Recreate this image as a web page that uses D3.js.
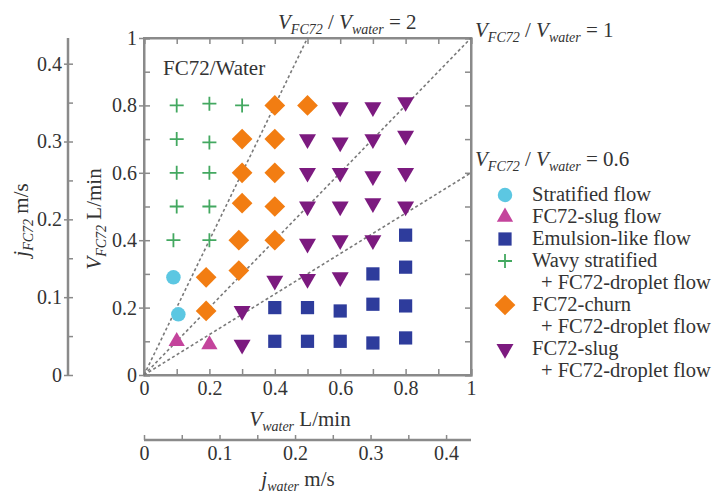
<!DOCTYPE html>
<html><head><meta charset="utf-8">
<script src="https://cdn.jsdelivr.net/npm/d3@7"></script>
<style>
body{margin:0;background:#fff}
svg{display:block}
svg text{font-family:'Liberation Serif','Tinos','Times New Roman','DejaVu Serif',serif !important;fill:#333}
</style>
</head><body>
<svg id="c" width="717" height="497" font-family="Liberation Serif, DejaVu Serif, serif"></svg>
<script>
// ---- data (V_water, V_FC72) in L/min ----
const stratified = [[0.09,0.29],[0.105,0.18]];
const fc72Slug = [[0.1,0.10],[0.2,0.09]];
const emulsion = [[0.8,0.415],[0.7,0.30],[0.8,0.32],[0.4,0.2],[0.5,0.2],[0.6,0.19],[0.7,0.21],[0.8,0.205],
  [0.4,0.1],[0.5,0.1],[0.6,0.1],[0.7,0.095],[0.8,0.11]];
const wavyDroplet = [[0.1,0.8],[0.2,0.805],[0.3,0.8],[0.1,0.7],[0.2,0.69],[0.1,0.6],[0.2,0.6],[0.1,0.5],[0.2,0.5],[0.09,0.4],[0.2,0.4]];
const churnDroplet = [[0.4,0.8],[0.5,0.8],[0.3,0.7],[0.4,0.7],[0.3,0.6],[0.4,0.6],[0.3,0.51],[0.4,0.5],[0.29,0.4],[0.4,0.4],
  [0.19,0.29],[0.29,0.31],[0.19,0.19]];
const slugDroplet = [[0.6,0.795],[0.7,0.795],[0.8,0.81],[0.5,0.7],[0.6,0.69],[0.7,0.7],[0.8,0.71],[0.5,0.6],[0.6,0.6],[0.7,0.59],[0.8,0.6],
  [0.5,0.5],[0.6,0.5],[0.7,0.51],[0.8,0.5],[0.5,0.39],[0.6,0.4],[0.7,0.4],[0.4,0.28],[0.5,0.285],[0.6,0.29],[0.3,0.19],[0.3,0.09]];
const ratioLines = [2, 1, 0.6];
const mainTicks = [0,0.2,0.4,0.6,0.8,1];
const jTicks = [0,0.1,0.2,0.3,0.4];
const jFactor = 0.433; // m/s per L/min

const FONT = "'Liberation Serif','Tinos','Times New Roman','DejaVu Serif',serif";
const svg = d3.select("#c");
const x = d3.scaleLinear([0,1],[144,471]);
const y = d3.scaleLinear([0,1],[375,38]);
const jx = d3.scaleLinear([0,jFactor],[144,471]);
const jy = d3.scaleLinear([0,jFactor],[375,38]);
const axisCol = "#8a8a8a";
const fmt = d => (d===0||d===1) ? String(d) : d.toFixed(1);

function styleAxis(g){
  g.attr("font-family",FONT).attr("font-size",20);
  g.select(".domain").attr("stroke",axisCol).attr("stroke-width",2);
  g.selectAll(".tick line").attr("stroke",axisCol).attr("stroke-width",1.5);
  g.selectAll(".tick text").attr("fill","#333");
}

// box frame
svg.append("rect").attr("x",x(0)).attr("y",y(1)).attr("width",x(1)-x(0)).attr("height",y(0)-y(1))
  .attr("fill","none").attr("stroke",axisCol).attr("stroke-width",2);

const minor = d3.range(0,11).map(i=>i/10);
// inner ticks all sides
svg.append("g").attr("transform",`translate(0,${y(0)})`).call(d3.axisBottom(x).tickValues(minor).tickSize(-6).tickFormat("")).call(styleAxis);
svg.append("g").attr("transform",`translate(0,${y(1)})`).call(d3.axisTop(x).tickValues(minor).tickSize(-6).tickFormat("")).call(styleAxis);
svg.append("g").attr("transform",`translate(${x(0)},0)`).call(d3.axisLeft(y).tickValues(minor).tickSize(-6).tickFormat("")).call(styleAxis);
svg.append("g").attr("transform",`translate(${x(1)},0)`).call(d3.axisRight(y).tickValues(minor).tickSize(-6).tickFormat("")).call(styleAxis);
// labelled axes
svg.append("g").attr("transform",`translate(0,${y(0)})`).call(d3.axisBottom(x).tickValues(mainTicks).tickSize(0).tickPadding(6).tickFormat(fmt)).call(styleAxis)
  .call(g=>g.select(".domain").remove());
svg.append("g").attr("transform",`translate(${x(0)},0)`).call(d3.axisLeft(y).tickValues(mainTicks).tickSize(5).tickPadding(2).tickFormat(fmt)).call(styleAxis)
  .call(g=>g.select(".domain").remove());

// secondary j axes
const jMinor = d3.range(0,9).map(i=>i*0.05);
const gjy = svg.append("g").attr("transform","translate(68,0)");
gjy.append("line").attr("x1",0).attr("x2",0).attr("y1",jy(0)).attr("y2",jy(jFactor)).attr("stroke",axisCol).attr("stroke-width",2.5);
gjy.call(d3.axisRight(jy).tickValues(jMinor).tickSize(5).tickFormat("")).call(styleAxis).call(g=>g.select(".domain").remove());
gjy.append("g").call(d3.axisLeft(jy).tickValues(jTicks).tickSize(4).tickPadding(2).tickFormat(fmt)).call(styleAxis).call(g=>g.select(".domain").remove());

const gjx = svg.append("g").attr("transform","translate(0,440)");
gjx.append("line").attr("x1",jx(0)).attr("x2",jx(jFactor)).attr("y1",0).attr("y2",0).attr("stroke",axisCol).attr("stroke-width",2.5);
gjx.call(d3.axisTop(jx).tickValues(jMinor).tickSize(5).tickFormat("")).call(styleAxis).call(g=>g.select(".domain").remove());
gjx.append("g").call(d3.axisBottom(jx).tickValues(jTicks).tickSize(0).tickPadding(6).tickFormat(fmt)).call(styleAxis).call(g=>g.select(".domain").remove());

// ratio lines
svg.append("g").selectAll("line").data(ratioLines).join("line")
  .attr("x1",x(0)).attr("y1",y(0))
  .attr("x2",r=>x(Math.min(1,1/r))).attr("y2",r=>y(Math.min(1,r)))
  .attr("stroke","#7a7a7a").attr("stroke-width",1.6).attr("stroke-dasharray","3,2.5");

// markers
const series = [
  {name:"stratified", data:stratified, type:d3.symbolCircle, size:165, color:"#5cc7e2", rot:0},
  {name:"fc72slug", data:fc72Slug, type:d3.symbolTriangle, size:115, color:"#c4449c", rot:0},
  {name:"emulsion", data:emulsion, type:d3.symbolSquare, size:175, color:"#2e3c9c", rot:0},
  {name:"wavy", data:wavyDroplet, type:"plus", size:7, color:"#43a860", rot:0},
  {name:"churn", data:churnDroplet, type:d3.symbolSquare, size:215, color:"#f27d12", rot:45},
  {name:"slug", data:slugDroplet, type:d3.symbolTriangle, size:125, color:"#7c1a7f", rot:180}
];
function drawMarker(sel, s){
  if(s.type==="plus"){
    const h=s.size;
    sel.append("path").attr("d",`M${-h},0H${h}M0,${-h}V${h}`).attr("stroke",s.color).attr("stroke-width",1.8).attr("fill","none");
  } else {
    sel.append("path").attr("d",d3.symbol(s.type,s.size)()).attr("fill",s.color).attr("transform",`rotate(${s.rot})`);
  }
}
series.forEach(s=>{
  svg.append("g").selectAll("g").data(s.data).join("g")
    .attr("transform",d=>`translate(${x(d[0])},${y(d[1])})`)
    .each(function(){ drawMarker(d3.select(this), s); });
});

// rich label helper
function rich(t, parts){
  t.attr("font-family",FONT);
  parts.forEach(p=>{
    const ts = t.append("tspan").text(p.t);
    if(p.i) ts.attr("font-style","italic");
    if(p.sub){ ts.attr("font-size","14px").attr("dy",5); }
    if(p.up) ts.attr("dy",-5);
  });
  return t;
}
function ratioLabel(px, py, val){
  const t = svg.append("text").attr("x",px).attr("y",py).attr("font-size",21);
  rich(t,[{t:"V",i:1},{t:"FC72",i:1,sub:1},{t:" / ",up:1},{t:"V",i:1},{t:"water",i:1,sub:1},{t:" = "+val,up:1}]);
}
ratioLabel(278,29,"2");
ratioLabel(475,37,"1");
ratioLabel(475,166,"0.6");

svg.append("text").attr("x",163).attr("y",75).attr("font-family",FONT).attr("font-size",21).text("FC72/Water");

// axis titles
rich(svg.append("text").attr("x",300).attr("y",426).attr("text-anchor","middle").attr("font-size",21),
  [{t:"V",i:1},{t:"water",i:1,sub:1},{t:" L/min",up:1}]);
rich(svg.append("text").attr("x",298).attr("y",486).attr("text-anchor","middle").attr("font-size",21),
  [{t:"j",i:1},{t:"water",i:1,sub:1},{t:"  m/s",up:1}]);
rich(svg.append("text").attr("transform","translate(101,219) rotate(-90)").attr("text-anchor","middle").attr("font-size",21),
  [{t:"V",i:1},{t:"FC72",i:1,sub:1},{t:" L/min",up:1}]);
rich(svg.append("text").attr("transform","translate(28,220) rotate(-90)").attr("text-anchor","middle").attr("font-size",21),
  [{t:"j",i:1},{t:"FC72",i:1,sub:1},{t:"  m/s",up:1}]);

// legend
const legendItems = [
  {s:series[0], lines:["Stratified flow"]},
  {s:series[1], lines:["FC72-slug flow"]},
  {s:series[2], lines:["Emulsion-like flow"]},
  {s:series[3], lines:["Wavy stratified","+ FC72-droplet flow"]},
  {s:series[4], lines:["FC72-churn","+ FC72-droplet flow"]},
  {s:series[5], lines:["FC72-slug","+ FC72-droplet flow"]}
];
let ly = 195;
const lg = svg.append("g").attr("font-family",FONT).attr("font-size",20.5);
legendItems.forEach(it=>{
  const g = lg.append("g").attr("transform",`translate(505,${ly})`);
  drawMarker(g, it.s);
  it.lines.forEach((ln,i)=>{
    lg.append("text").attr("x", i===0?532:541).attr("y", ly+6+i*22).text(ln);
  });
  ly += 22*it.lines.length;
});
</script>
</body></html>
